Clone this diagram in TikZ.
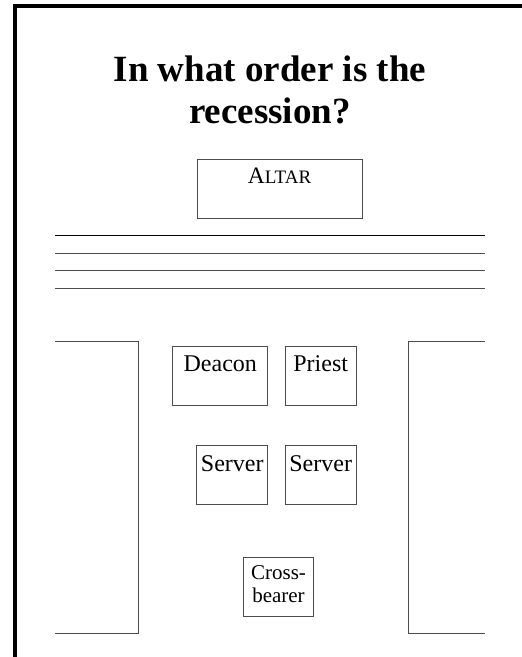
\documentclass[tikz,border=0pt]{standalone}
\usepackage{fontspec}
\setmainfont{Liberation Serif}
\begin{document}
\begin{tikzpicture}[x=1pt,y=-1pt,
  box/.style={draw=black!70,line width=1pt,inner sep=0pt},
  lab/.style={inner sep=0pt,anchor=base,font=\fontsize{24}{27}\selectfont},
  aisle/.style={draw=black!70,line width=1pt},
  frame/.style={draw=black,line width=4pt}]
\useasboundingbox (0,0) rectangle (522,657);
% frame
\draw[frame] (15,657) -- (15,5.5) -- (522,5.5);
% title (base anchor = baseline of last line)
\node[inner sep=0pt,anchor=base,align=center,font=\fontsize{37}{42}\selectfont\bfseries] (title) at (270,123) {In what order is the\\recession?};
% altar
\node[box,minimum width=165pt,minimum height=59pt] (altar) at (279.5,188.5) {};
\node[inner sep=0pt,anchor=base] (altarlab) at ([yshift=-25.3pt]altar.north) {\fontsize{23.5}{26}\selectfont A\fontsize{19}{22}\selectfont LTAR};
% rails
\draw[black,line width=1pt] (55,235) -- (485,235);
\draw[aisle] (55,253) -- (485,253);
\draw[aisle] (55,270) -- (485,270);
\draw[aisle] (55,288) -- (485,288);
% pews
\draw[aisle] (55,341) -- (138.3,341) -- (138.3,633) -- (55,633);
\draw[aisle] (485,341) -- (408.3,341) -- (408.3,633) -- (485,633);
% people
\node[box,minimum width=94.7pt,minimum height=59pt] (deacon) at (220.3,375.8) {};
\node[lab] (deaconlab) at ([yshift=-25.4pt]deacon.north) {Deacon};
\node[box,minimum width=71.3pt,minimum height=59pt] (priest) at (320.7,375.8) {};
\node[lab] (priestlab) at ([yshift=-25.4pt]priest.north) {Priest};
\node[box,minimum width=70.7pt,minimum height=58.7pt] (server1) at (232.3,475.3) {};
\node[lab] (server1lab) at ([yshift=-25.7pt]server1.north) {Server};
\node[box,minimum width=71.3pt,minimum height=58.7pt] (server2) at (320.7,475.3) {};
\node[lab] (server2lab) at ([yshift=-25.7pt]server2.north) {Server};
\node[box,minimum width=70pt,minimum height=59pt] (cross) at (278.5,586.8) {};
\node[inner sep=0pt,anchor=base,align=center,font=\fontsize{21}{23}\selectfont] (crosslab) at ([yshift=-46pt]cross.north) {Cross-\\bearer};
\end{tikzpicture}
\end{document}
